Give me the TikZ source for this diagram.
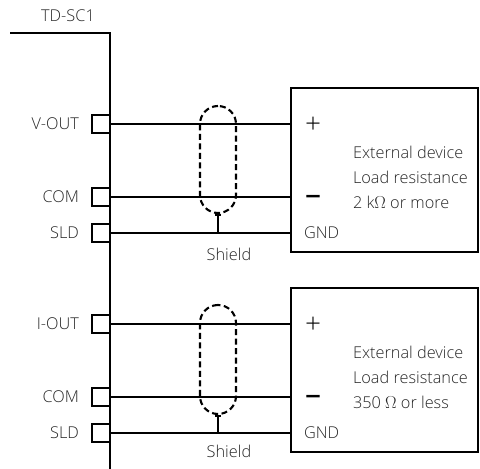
\documentclass[tikz,border=0pt]{standalone}
\usepackage{fontspec}
\setmainfont{Open Sans Light}[]
\usetikzlibrary{positioning,arrows.meta}

\begin{document}
\begin{tikzpicture}[x=1pt, y=-1pt, line width=2.1pt,
                    termnode/.style={rectangle, draw=black, minimum width=18pt, minimum height=18pt, inner sep=0pt},
                    devnode/.style={rectangle, draw=black, minimum width=187pt, minimum height=164pt, inner sep=0pt},
                    shieldnode/.style={rectangle, draw=black, dashed, dash pattern=on 6pt off 3.5pt, rounded corners=18pt, minimum width=36pt, inner sep=0pt},
                    textnode/.style={inner sep=0pt, text=black!85, font=\fontsize{16.3}{25}\selectfont},
                    signnode/.style={inner sep=0pt, text=black, font=\fontsize{28}{25}\selectfont},]
    \useasboundingbox (0,0) rectangle (480,469);
    % nodes
    \node[textnode]       (title)   at (68,16)             {TD-SC1};
    \node[termnode]       (voutT)   at (101,124)           {};
    \node[termnode]       (comAT)   at (101,197)           {};
    \node[termnode]       (sldAT)   at (101,233)           {};
    \node[termnode]       (ioutT)   at (101,324)           {};
    \node[termnode]       (comBT)   at (101,397)           {};
    \node[termnode]       (sldBT)   at (101,433)           {};
    \node[textnode]       (voutL)   [left=11pt of voutT]   {V-OUT};
    \node[textnode]       (comAL)   [left=11pt of comAT]   {COM};
    \node[textnode]       (sldAL)   [left=11pt of sldAT]   {SLD};
    \node[textnode]       (ioutL)   [left=11pt of ioutT]   {I-OUT};
    \node[textnode]       (comBL)   [left=11pt of comBT]   {COM};
    \node[textnode]       (sldBL)   [left=11pt of sldBT]   {SLD};
    \node[devnode]        (devA)    at (384.5,170)         {};
    \node[devnode]        (devB)    at (384.5,370)         {};
    \node[shieldnode, minimum height=107pt] (shieldA) at (218,159.5) {};
    \node[shieldnode, minimum height=109pt] (shieldB) at (218,359.5) {};
    \node[signnode]       (plusA)   at (313,125)           {+};
    \node[signnode]       (minusA)  at (313,201)           {\bfseries −};
    \node[textnode]       (gndA)    [right=13pt of devA.west |- sldAT] {GND};
    \node[signnode]       (plusB)   at (313,325)           {+};
    \node[signnode]       (minusB)  at (313,401)           {\bfseries −};
    \node[textnode]       (gndB)    [right=13pt of devB.west |- sldBT] {GND};
    \node[textnode, align=left, anchor=west] (infoA) at (352,177) {External device\\Load resistance\\2 k$\Omega$ or more};
    \node[textnode, align=left, anchor=west] (infoB) at (352,377) {External device\\Load resistance\\350 $\Omega$ or less};
    \node[textnode]       (shieldAL) at (229,254)          {Shield};
    \node[textnode]       (shieldBL) at (229,451)          {Shield};
    % case outline
    \coordinate           (caseL)   at (10,33);
    \coordinate           (caseC)   at (110,33);
    \coordinate           (caseE)   at (110,469);
    \draw (caseL) -- (caseC) -- (caseE);
    % lines
    \draw (voutT.east) -- (devA.west |- voutT);
    \draw (comAT.east) -- (devA.west |- comAT);
    \draw (sldAT.east) -- (devA.west |- sldAT);
    \draw (ioutT.east) -- (devB.west |- ioutT);
    \draw (comBT.east) -- (devB.west |- comBT);
    \draw (sldBT.east) -- (devB.west |- sldBT);
    \draw[{Bar[width=6pt]}-] (shieldA.south) -- (shieldA.south |- sldAT);
    \draw[{Bar[width=6pt]}-] (shieldB.south) -- (shieldB.south |- sldBT);
\end{tikzpicture}
\end{document}
